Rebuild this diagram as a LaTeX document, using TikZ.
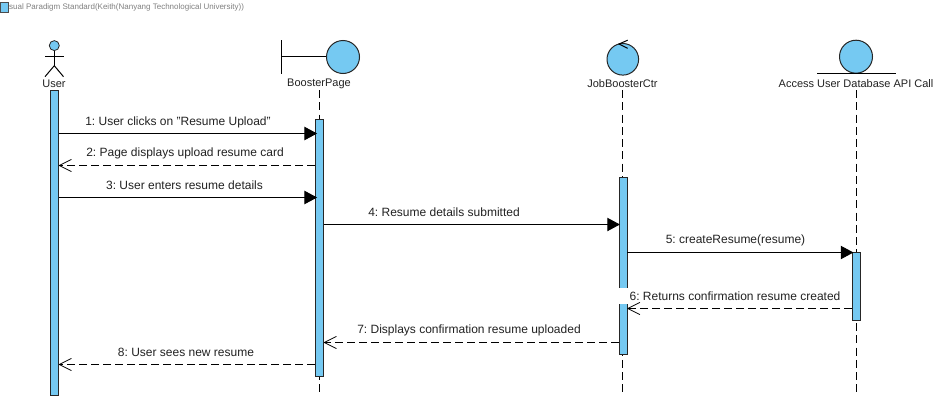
\documentclass[tikz,border=0pt]{standalone}
\usepackage{fontspec}
\setmainfont{Liberation Sans}
\usetikzlibrary{arrows.meta}
\definecolor{vpblue}{HTML}{75C9F2}
\definecolor{vptext}{HTML}{222222}
\tikzset{
  x=0.75pt,y=-0.75pt,
  every node/.style={font=\fontsize{8.25pt}{10pt}\selectfont,text=vptext,inner sep=0pt},
  msglabel/.style={font=\fontsize{9pt}{11pt}\selectfont\frenchspacing},
  ink/.style={draw=black,line width=0.75pt},
  bar/.style={draw=black!85,fill=vpblue,line width=0.6pt,minimum width=6pt,rectangle},
  orb/.style={circle,draw=black!85,fill=vpblue,line width=0.75pt,minimum size=24.75pt},
  life/.style={draw=black,line width=0.75pt,dash pattern=on 6pt off 3.2pt},
  call/.style={draw=black,line width=0.75pt,-{Triangle[length=9.5pt,width=10pt,fill=black]}},
  back/.style={draw=black,line width=0.6pt,dash pattern=on 6pt off 3pt,
    -{Straight Barb[length=9pt,width=9pt,line width=0.55pt,round=false]}},
}
\begin{document}
\begin{tikzpicture}
\useasboundingbox (0,0) rectangle (943,400);
\fill[white] (0,0) rectangle (943,400);

% header
\node[anchor=west,font=\fontsize{6pt}{7pt}\selectfont,text=black!50] (hdr) at (2,7) {Visual Paradigm Standard(Keith(Nanyang Technological University))};
\node[draw=black!70,fill=vpblue,line width=0.5pt,minimum width=6pt,minimum height=7.5pt] (hdricon) at (4.5,7) {};

% head labels
\node (userlbl) at (54,83.5) {User};
\node (pagelbl) at (319,83.5) {BoosterPage};
\node (ctrlbl) at (622.5,83.5) {JobBoosterCtr};
\node (dblbl) at (856,83.5) {Access User Database API Call};

% lifeline ends and message levels
\coordinate (pageend) at (319.5,396);
\coordinate (ctrend) at (622.8,396);
\coordinate (dbend) at (856,396);
\foreach \n/\v in {y1/133.5,y2/165.5,y3/197.5,y4/224.5,y5/252.5,y6/308.5,y7/342.5,y8/364.5}{\coordinate (\n) at (0,\v);}

% lifelines
\draw[life] (319.5,90) -- (pageend);
\draw[life] (622.8,90) -- (ctrend);
\draw[life] (856,90) -- (dbend);

% activation bars
\node[bar,minimum height=228.75pt] (userbar) at (54.5,242.5) {};
\node[bar,minimum height=192.75pt] (pagebar) at (319.5,247.5) {};
\node[bar,minimum height=132.75pt] (ctrbar) at (623,265.5) {};
\node[bar,minimum height=51pt] (dbbar) at (856.5,286) {};

% actor
\node[circle,draw=black!85,fill=vpblue,line width=0.6pt,minimum size=7.5pt] (head) at (54.3,45.6) {};
\coordinate (hip) at (54.3,65.7);
\coordinate (armL) at (45,56);
\coordinate (armR) at (63.5,56);
\coordinate (footL) at (45,76.7);
\coordinate (footR) at (63.5,76.7);
\draw[ink] (head.south) -- (hip);
\draw[ink] (armL) -- (armR);
\draw[ink] (footL) -- (hip) -- (footR);

% boundary
\node[orb] (pageorb) at (343,57) {};
\coordinate (bndT) at (281,40);
\coordinate (bndB) at (281,73.5);
\coordinate (bndM) at (281,56.5);
\draw[ink] (bndT) -- (bndB);
\draw[ink] (bndM) -- (pageorb.west |- bndM);

% control
\node[orb,minimum size=23.7pt] (ctrorb) at (622.8,59.3) {};
\coordinate (cA) at (627.7,40.2);
\coordinate (cB) at (619,44);
\coordinate (cC) at (627.7,48.3);
\draw[ink] (cA) -- (cB) -- (cC);

% entity
\node[orb] (dborb) at (856,56.7) {};
\coordinate (eL) at (817,73.3);
\coordinate (eR) at (896,73.3);
\draw[ink] (eL) -- (eR);

% messages
\draw[call] (userbar.east |- y1) -- ([xshift=1.5pt]pagebar.west |- y1);
\draw[back] (pagebar.west |- y2) -- (userbar.east |- y2);
\draw[call] (userbar.east |- y3) -- ([xshift=1.5pt]pagebar.west |- y3);
\draw[call] (pagebar.east |- y4) -- ([xshift=1pt]ctrbar.west |- y4);
\draw[call] (ctrbar.east |- y5) -- ([xshift=1pt]dbbar.west |- y5);

% label 6 clears the bar behind it
\node[msglabel,fill=white,minimum height=12pt,inner xsep=8.25pt] (m6) at (735,296) {6: Returns confirmation resume created};
\draw[back] (dbbar.west |- y6) -- (ctrbar.east |- y6);
\draw[back] (ctrbar.west |- y7) -- (pagebar.east |- y7);
\draw[back] (pagebar.west |- y8) -- (userbar.east |- y8);

% message labels
\node[msglabel] (m1) at (178,122) {1: User clicks on \symbol{34}Resume Upload\symbol{34}};
\node[msglabel] (m2) at (185,153.5) {2: Page displays upload resume card};
\node[msglabel] (m3) at (184.5,185.5) {3: User enters resume details};
\node[msglabel] (m4) at (444,212) {4: Resume details submitted};
\node[msglabel] (m5) at (735.5,240) {5: createResume(resume)};
\node[msglabel] (m7) at (469,330.5) {7: Displays confirmation resume uploaded};
\node[msglabel] (m8) at (186,352.5) {8: User sees new resume};
\end{tikzpicture}
\end{document}
